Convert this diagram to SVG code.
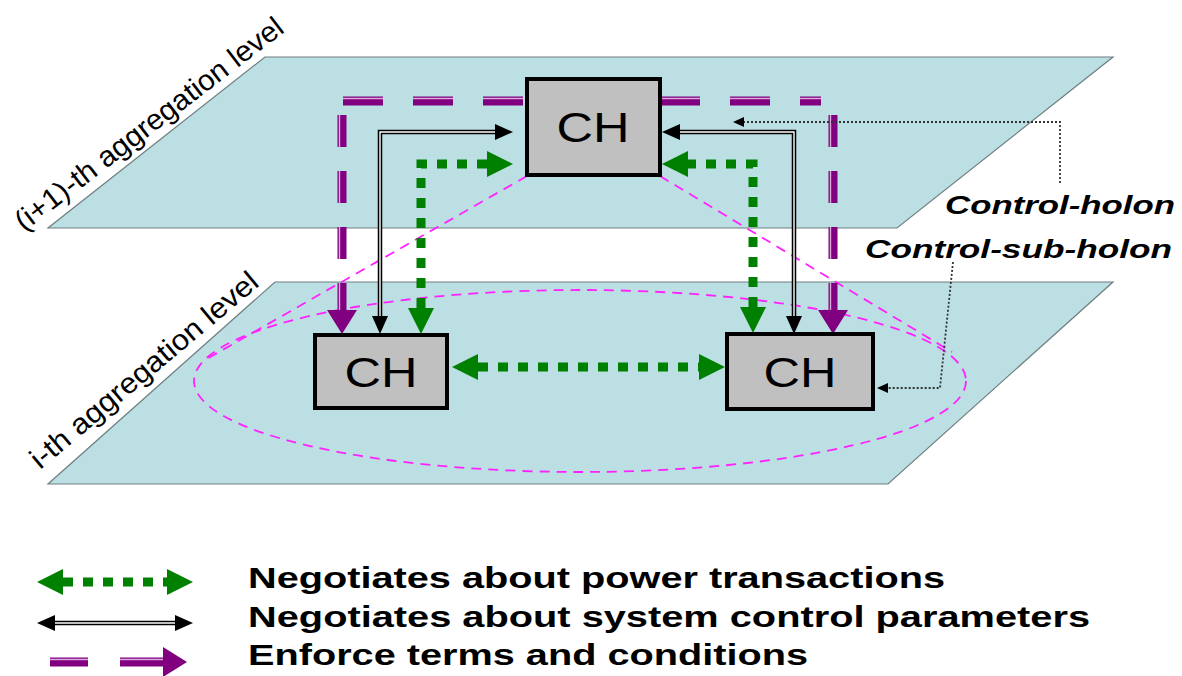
<svg xmlns="http://www.w3.org/2000/svg" width="1182" height="676" viewBox="0 0 1182 676">
<style>
.plane{fill:#bbdfe3;stroke:#6f7f80;stroke-width:1.2}
.box{fill:#c0c0c0;stroke:#000;stroke-width:4}
.ch{font-family:"Liberation Sans",Arial,sans-serif;font-size:42px;fill:#000;text-anchor:middle}
.green{fill:none;stroke:#008000;stroke-width:9;stroke-dasharray:10 10}
.blk{fill:none;stroke:#000;stroke-width:4.5}
.blkin{fill:none;stroke:#fff;stroke-width:1.4}
.pur{fill:none;stroke:#800080;stroke-width:9}
.purin{fill:none;stroke:#d9a9d9;stroke-width:1.4}
.mag{fill:none;stroke:#ff22ff;stroke-width:1.8;stroke-dasharray:10 7}
.dot{fill:none;stroke:#333;stroke-width:1.8;stroke-dasharray:2 2}
.lbl{font-family:"Liberation Sans",Arial,sans-serif;font-size:29px;fill:#000}
.call{font-family:"Liberation Sans",Arial,sans-serif;font-size:26px;font-weight:bold;font-style:italic;fill:#000}
.leg{font-family:"Liberation Sans",Arial,sans-serif;font-size:29px;font-weight:bold;fill:#000}
</style>
<defs>
<marker id="ag" markerUnits="userSpaceOnUse" viewBox="0 0 26 26" markerWidth="26" markerHeight="26" refX="0" refY="13" orient="auto-start-reverse"><path d="M0,0 L26,13 L0,26 Z" fill="#008000"/></marker>
<marker id="ab" markerUnits="userSpaceOnUse" viewBox="0 0 18 16" markerWidth="18" markerHeight="16" refX="0" refY="8" orient="auto-start-reverse"><path d="M0,0 L18,8 L0,16 Z" fill="#000"/></marker>
<marker id="ap" markerUnits="userSpaceOnUse" viewBox="0 0 24 30" markerWidth="24" markerHeight="30" refX="0" refY="15" orient="auto"><path d="M0,0 L24,15 L0,30 Z" fill="#800080"/></marker>
<marker id="ad" markerUnits="userSpaceOnUse" viewBox="0 0 11 10" markerWidth="11" markerHeight="10" refX="0" refY="5" orient="auto"><path d="M0,0 L11,5 L0,10 Z" fill="#000"/></marker>
</defs>

<g id="plane-upper"><polygon class="plane" points="265,57 1113,57 897,228 48,228"/></g>
<g id="plane-lower"><polygon class="plane" points="275,282 1113,282 888,484 48,484"/></g>

<g id="labels">
<text class="lbl" x="24" y="232" transform="rotate(-37.5 24 232)" textLength="330" lengthAdjust="spacingAndGlyphs">(i+1)-th aggregation level</text>
<text class="lbl" x="40" y="470" transform="rotate(-40 40 470)" textLength="288" lengthAdjust="spacingAndGlyphs">i-th aggregation level</text>
</g>

<g id="connectors">
<ellipse class="mag" cx="580" cy="381" rx="386" ry="91"/>
<path class="mag" d="M527,176 L205,360"/>
<path class="mag" d="M660,176 L952,352"/>

<path class="pur" d="M343,101 H527" style="stroke-dasharray:40 30"/>
<path class="purin" d="M343,98.5 H527" style="stroke-dasharray:40 30"/>
<path class="pur" d="M660,101 H821" style="stroke-dasharray:40 30"/>
<path class="purin" d="M660,98.5 H821" style="stroke-dasharray:40 30"/>
<path class="pur" d="M342,115 V310" style="stroke-dasharray:32 24" marker-end="url(#ap)"/>
<path class="purin" d="M339.5,115 V310" style="stroke-dasharray:32 24"/>
<path class="pur" d="M833,115 V310" style="stroke-dasharray:32 24" marker-end="url(#ap)"/>
<path class="purin" d="M830.5,115 V310" style="stroke-dasharray:32 24"/>

<path class="blk" d="M380,316 V132 H495" marker-start="url(#ab)" marker-end="url(#ab)"/>
<path class="blkin" d="M380,316 V132 H495"/>
<path class="blk" d="M794,316 V132 H680" marker-start="url(#ab)" marker-end="url(#ab)"/>
<path class="blkin" d="M794,316 V132 H680"/>

<path class="green" d="M421,308 V164 H487" marker-start="url(#ag)" marker-end="url(#ag)"/>
<path class="green" d="M753,307 V164 H688" marker-start="url(#ag)" marker-end="url(#ag)"/>
<path class="green" d="M478,367 H699" marker-start="url(#ag)" marker-end="url(#ag)"/>

<path class="dot" d="M1060,183 V122 H744" marker-end="url(#ad)"/>
<path class="dot" d="M953,262 L940,388 H888" marker-end="url(#ad)"/>
</g>

<g id="ch-top"><rect class="box" x="527" y="79" width="133" height="96"/><text class="ch" x="593" y="142" textLength="73" lengthAdjust="spacingAndGlyphs">CH</text></g>
<g id="ch-left"><rect class="box" x="315" y="335" width="132" height="73"/><text class="ch" x="381" y="387" textLength="73" lengthAdjust="spacingAndGlyphs">CH</text></g>
<g id="ch-right"><rect class="box" x="727" y="334" width="146" height="75"/><text class="ch" x="800" y="387" textLength="73" lengthAdjust="spacingAndGlyphs">CH</text></g>

<g id="callouts">
<text class="call" x="945" y="214" textLength="230" lengthAdjust="spacingAndGlyphs">Control-holon</text>
<text class="call" x="865" y="258" textLength="307" lengthAdjust="spacingAndGlyphs">Control-sub-holon</text>
</g>

<g id="legend">
<path class="green" d="M63,582 H167" marker-start="url(#ag)" marker-end="url(#ag)"/>
<path class="blk" d="M55,623 H175" marker-start="url(#ab)" marker-end="url(#ab)"/>
<path class="blkin" d="M55,623 H175"/>
<path class="pur" d="M50,662 H163" style="stroke-dasharray:38 32 45 38" marker-end="url(#ap)"/>
<path class="purin" d="M50,659.5 H163" style="stroke-dasharray:38 32 45 38"/>
<text class="leg" x="248" y="588" textLength="697" lengthAdjust="spacingAndGlyphs">Negotiates about power transactions</text>
<text class="leg" x="248" y="627" textLength="842" lengthAdjust="spacingAndGlyphs">Negotiates about system control parameters</text>
<text class="leg" x="248" y="665" textLength="560" lengthAdjust="spacingAndGlyphs">Enforce terms and conditions</text>
</g>
</svg>
